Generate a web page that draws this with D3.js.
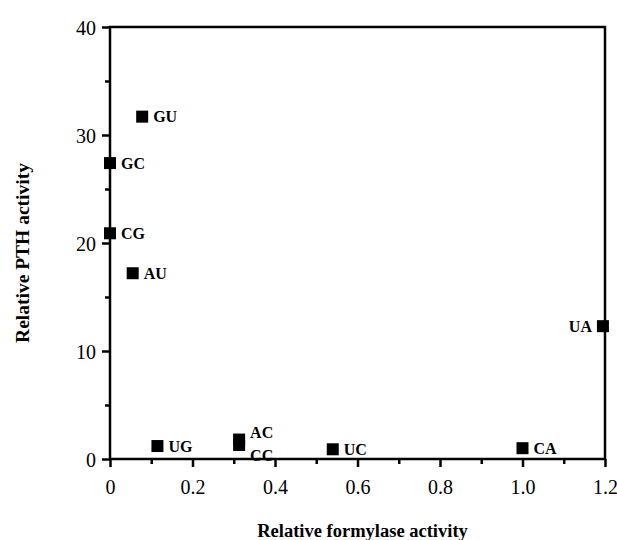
<!DOCTYPE html>
<html>
<head>
<meta charset="utf-8">
<script src="https://cdn.jsdelivr.net/npm/d3@7"></script>
<style>
  body { margin: 0; background: #fff; }
  svg text { font-family: "Liberation Serif", "DejaVu Serif", serif; fill: #000; }
  .tick text { font-size: 20px; }
  .pt-label { font-size: 16px; font-weight: bold; }
  .axis-title { font-weight: bold; }
</style>
</head>
<body>
<div id="chart"></div>
<script>
// data
var pairs = ["GU", "GC", "CG", "AU", "UA", "UG", "AC", "CC", "UC", "CA"];
var formylase = [0.078, 0.0, 0.0, 0.055, 1.195, 0.115, 0.313, 0.313, 0.54, 1.0];
var pth = [31.7, 27.4, 20.9, 17.2, 12.3, 1.2, 1.8, 1.3, 0.9, 1.0];
var labelSide = ["right", "right", "right", "right", "left", "right", "upper", "lower", "right", "right"];
var xTicks = [0, 0.2, 0.4, 0.6, 0.8, 1.0, 1.2];
var yTicks = [0, 10, 20, 30, 40];

var svgWidth = 617;
var svgHeight = 540;

var margin = {
    top: 27,
    right: 12,
    bottom: 81,
    left: 110
};

var width = svgWidth - margin.left - margin.right;
var height = svgHeight - margin.top - margin.bottom;

var svg = d3.select("#chart")
    .append("svg")
    .attr("width", svgWidth)
    .attr("height", svgHeight);

var chartGroup = svg.append("g")
    .attr("transform", `translate(${margin.left}, ${margin.top})`);

var xScale = d3.scaleLinear().domain([0, 1.2]).range([0, width]);
var yScale = d3.scaleLinear().domain([0, 40]).range([height, 0]);

// minor ticks first
var xMinor = d3.axisBottom(xScale)
    .tickValues(d3.range(1, 12, 2).map(d => d / 10))
    .tickSize(5)
    .tickFormat("");
chartGroup.append("g")
    .attr("transform", `translate(0, ${height})`)
    .call(xMinor)
    .call(g => g.select(".domain").remove())
    .selectAll("line").attr("stroke-width", 2.5);

var yMinor = d3.axisLeft(yScale)
    .tickValues([5, 15, 25, 35])
    .tickSize(5)
    .tickFormat("");
chartGroup.append("g")
    .call(yMinor)
    .call(g => g.select(".domain").remove())
    .selectAll("line").attr("stroke-width", 2.5);

// major axes
var bottomAxis = d3.axisBottom(xScale)
    .tickValues(xTicks)
    .tickSize(8)
    .tickPadding(13)
    .tickFormat(d => d === 0 ? "0" : d3.format(".1f")(d));
var xAxis = chartGroup.append("g")
    .attr("transform", `translate(0, ${height})`)
    .call(bottomAxis);
xAxis.select(".domain").remove();
xAxis.selectAll("line").attr("stroke-width", 2.5);

var leftAxis = d3.axisLeft(yScale)
    .tickValues(yTicks)
    .tickSize(8)
    .tickPadding(6);
var yAxis = chartGroup.append("g")
    .call(leftAxis);
yAxis.select(".domain").remove();
yAxis.selectAll("line").attr("stroke-width", 2.5);
yAxis.selectAll("text").attr("dy", "0.36em");

// frame
chartGroup.append("rect")
    .attr("x", 0)
    .attr("y", 0)
    .attr("width", width)
    .attr("height", height)
    .attr("fill", "none")
    .attr("stroke", "#000")
    .attr("stroke-width", 2.5);

// points
var sq = 12;
var points = chartGroup.selectAll(".pt")
    .data(pairs)
    .enter()
    .append("rect")
    .classed("pt", true)
    .attr("x", (d, i) => xScale(formylase[i]) - sq / 2)
    .attr("y", (d, i) => yScale(pth[i]) - sq / 2)
    .attr("width", sq)
    .attr("height", sq)
    .attr("fill", "#000");

var labels = chartGroup.selectAll(".pt-label")
    .data(pairs)
    .enter()
    .append("text")
    .classed("pt-label", true)
    .attr("x", function (d, i) {
        var cx = xScale(formylase[i]);
        if (labelSide[i] === "left") return cx - sq / 2 - 5;
        return cx + sq / 2 + 5;
    })
    .attr("y", function (d, i) {
        var cy = yScale(pth[i]);
        if (labelSide[i] === "upper") return cy - 7;
        if (labelSide[i] === "lower") return cy + 10;
        return cy;
    })
    .attr("dy", "0.36em")
    .attr("text-anchor", (d, i) => labelSide[i] === "left" ? "end" : "start")
    .text(d => d);

// axis titles
chartGroup.append("text")
    .classed("axis-title", true)
    .attr("x", width / 2 + 5)
    .attr("y", height + 78)
    .attr("text-anchor", "middle")
    .style("font-size", "18.5px")
    .text("Relative formylase activity");

chartGroup.append("text")
    .classed("axis-title", true)
    .attr("transform", "rotate(-90)")
    .attr("x", 0 - 226)
    .attr("y", 0 - margin.left + 29)
    .attr("text-anchor", "middle")
    .style("font-size", "19.5px")
    .text("Relative PTH activity");
</script>
</body>
</html>
